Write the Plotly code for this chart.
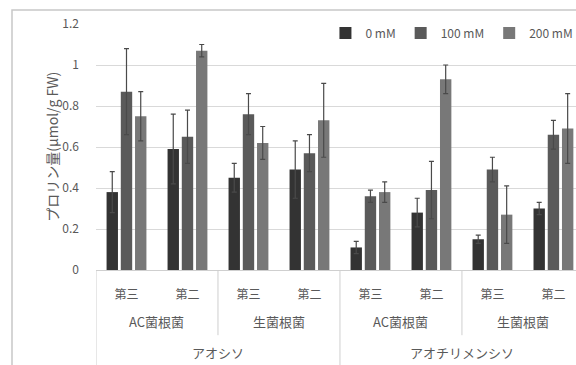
import plotly.graph_objects as go

# ---- data ----
sub_labels = ["第三", "第二", "第三", "第二", "第三", "第二", "第三", "第二"]
mid_labels = ["AC菌根菌", "生菌根菌", "AC菌根菌", "生菌根菌"]
top_labels = ["アオシソ", "アオチリメンシソ"]
series_names = ["0 mM", "100 mM", "200 mM"]

v_0 = [0.38, 0.59, 0.45, 0.49, 0.11, 0.28, 0.15, 0.30]
v_100 = [0.87, 0.65, 0.76, 0.57, 0.36, 0.39, 0.49, 0.66]
v_200 = [0.75, 1.07, 0.62, 0.73, 0.38, 0.93, 0.27, 0.69]

e_0 = [0.10, 0.17, 0.07, 0.14, 0.03, 0.07, 0.02, 0.03]
e_100 = [0.21, 0.13, 0.10, 0.09, 0.03, 0.14, 0.06, 0.07]
e_200 = [0.12, 0.03, 0.08, 0.18, 0.05, 0.07, 0.14, 0.17]

y_ticks = [0, 0.2, 0.4, 0.6, 0.8, 1, 1.2]
y_title = "プロリン量(μmol/g FW)"

# ---- styles ----
colors = ["#333333", "#5a5a5a", "#787878"]
FONT = "Noto Sans CJK JP"
TXT = "#595959"
LINE = "#cfcfcf"

x = list(range(len(sub_labels)))
fig = go.Figure()
for name, vals, errs, c in zip(series_names, [v_0, v_100, v_200], [e_0, e_100, e_200], colors):
    fig.add_trace(go.Bar(
        x=x, y=vals, name=name, marker=dict(color=c, line=dict(width=0)),
        error_y=dict(type="data", array=errs, symmetric=True, color="#4a4a4a",
                     thickness=1.2, width=2.5),
    ))

# chart-area frame and category separators
shapes = [
    dict(type="rect", xref="paper", yref="paper", x0=-0.175, x1=1.3, y0=-0.6, y1=1.057,
         line=dict(color="#c8c8c8", width=1.5), fillcolor="rgba(0,0,0,0)", layer="below"),
]
for b in [-0.5, 3.5, 7.5]:
    shapes.append(dict(type="line", xref="x", yref="paper", x0=b, x1=b, y0=0, y1=-0.5,
                       line=dict(color=LINE, width=1)))
for b in [1.5, 5.5]:
    shapes.append(dict(type="line", xref="x", yref="paper", x0=b, x1=b, y0=0, y1=-0.265,
                       line=dict(color=LINE, width=1)))

annotations = []
for i, t in enumerate(mid_labels):
    annotations.append(dict(x=2 * i + 0.5, xref="x", y=-0.211, yref="paper", yanchor="middle",
                            text=t, showarrow=False, font=dict(family=FONT, size=13, color=TXT)))
for i, t in enumerate(top_labels):
    annotations.append(dict(x=4 * i + 1.5, xref="x", y=-0.337, yref="paper", yanchor="middle",
                            text=t, showarrow=False, font=dict(family=FONT, size=13, color=TXT)))
annotations.append(dict(x=-0.117, xref="paper", y=0.5, yref="paper", text=y_title,
                        textangle=-90, showarrow=False,
                        font=dict(family=FONT, size=14, color=TXT)))

fig.update_layout(
    width=576, height=365,
    margin=dict(l=96, r=0, t=24, b=95, autoexpand=False),
    paper_bgcolor="white", plot_bgcolor="white",
    barmode="group", bargap=0.3, bargroupgap=0.2,
    font=dict(family=FONT, size=12, color=TXT),
    showlegend=True,
    legend=dict(orientation="h", x=0.478, xanchor="left", y=0.963, yanchor="middle",
                font=dict(family=FONT, size=12, color=TXT), itemwidth=30,
                bgcolor="rgba(0,0,0,0)"),
    shapes=shapes, annotations=annotations,
)
fig.update_xaxes(range=[-0.5, 7.37], tickvals=x, ticktext=sub_labels, showgrid=False,
                 showline=True, linecolor=LINE, linewidth=1, zeroline=False, automargin=False,
                 ticks="", ticklabelstandoff=14, tickfont=dict(family=FONT, size=12, color=TXT))
fig.update_yaxes(range=[0, 1.2], tickvals=y_ticks, ticktext=[str(v) for v in y_ticks],
                 showgrid=True, gridcolor="#d9d9d9", gridwidth=1, zeroline=False, automargin=False,
                 showline=False, ticks="", ticklabelstandoff=16,
                 tickfont=dict(family=FONT, size=12, color=TXT))

fig.write_html("out.html", config={"displayModeBar": False},
               post_script="document.body.style.margin='0';")
